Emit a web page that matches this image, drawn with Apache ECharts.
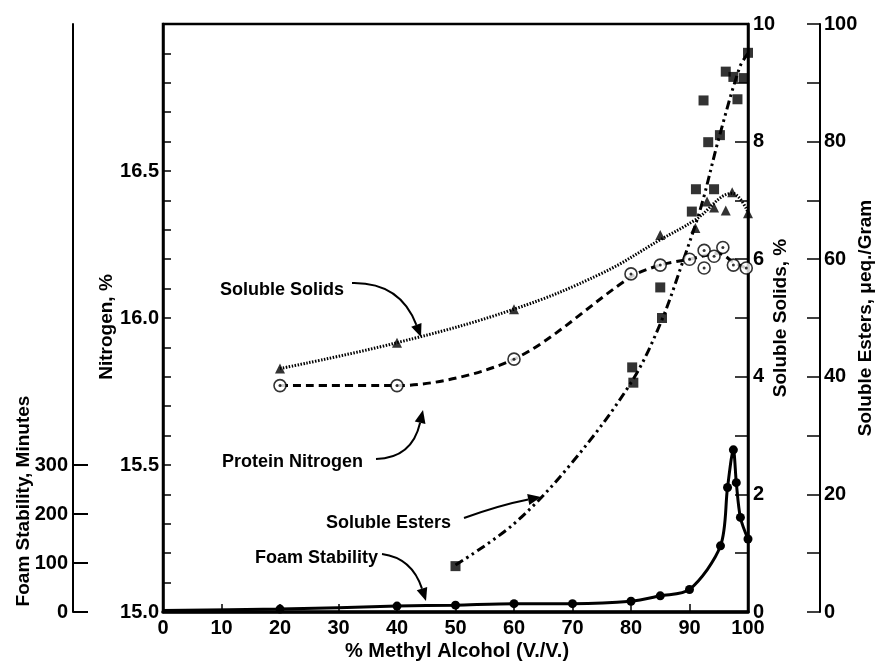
<!DOCTYPE html>
<html><head><meta charset="utf-8">
<script src="https://cdn.jsdelivr.net/npm/echarts@6/dist/echarts.min.js"></script>
<style>html,body{margin:0;padding:0;background:#fff}#c{width:877px;height:664px}</style>
</head><body><div id="c"></div>
<script>
// ---- data ----
const solidsX = [20, 40, 60, 85, 91, 93, 94.2, 96.2, 97.3, 100];
const solidsY = [4.14, 4.58, 5.15, 6.41, 6.53, 6.98, 6.88, 6.83, 7.14, 6.78];
const solidsCurveX = [20, 40, 60, 75, 85, 91, 97.3, 100];
const solidsCurveY = [4.14, 4.58, 5.15, 5.76, 6.33, 6.67, 7.12, 6.8];

const proteinX = [20, 40, 60, 80, 85, 90, 92.5, 92.5, 94.2, 95.7, 97.5, 99.7];
const proteinY = [15.77, 15.77, 15.86, 16.15, 16.18, 16.20, 16.23, 16.17, 16.21, 16.24, 16.18, 16.17];
const proteinCurveX = [20, 40, 60, 80, 85, 90, 95, 97.5, 99.7];
const proteinCurveY = [15.77, 15.77, 15.86, 16.14, 16.18, 16.2, 16.22, 16.19, 16.17];

const estersX = [50, 80.2, 80.4, 85, 85.3, 90.4, 91.1, 92.4, 93.2, 94.2, 95.2, 96.2, 97.5, 98.2, 99.3, 100];
const estersY = [7.8, 41.6, 39.0, 55.2, 50.0, 68.1, 71.9, 87.0, 79.9, 71.9, 81.1, 91.9, 91.0, 87.2, 90.8, 95.1];
const estersCurveX = [50, 60, 70, 80, 85, 89, 92, 95, 98.6, 100];
const estersCurveY = [8, 15, 25.5, 39, 49, 60, 69, 80.5, 92.7, 95];

const foamX = [0, 20, 40, 50, 60, 70, 80, 85, 90, 95.3, 96.5, 97.5, 98, 98.7, 100];
const foamY = [3, 6, 12, 14, 17, 17, 22, 33, 46, 135, 254, 331, 264, 193, 149];

const xTickStep = 10;
const nitrogenRange = [15.0, 17.0];
const foamTickValues = [0, 100, 200, 300];

// ---- chart ----
const FONT = '"Liberation Sans",Arial,sans-serif';
const pts = (xs, ys) => xs.map((x, i) => [x, ys[i]]);
const lbl = (extra) => Object.assign({color: '#000', fontFamily: FONT, fontWeight: 'bold', fontSize: 20}, extra || {});

const G = {left: 163, right: 129, top: 24, bottom: 52};

function arrow(x1, y1, cx, cy, x2, y2) {
  const a = Math.atan2(y2 - cy, x2 - cx), L = 13, W = 5.5;
  const bx = x2 - L * Math.cos(a), by = y2 - L * Math.sin(a);
  return [
    {type: 'bezierCurve', shape: {x1, y1, cpx1: cx, cpy1: cy, x2: bx, y2: by},
     style: {stroke: '#000', lineWidth: 2, fill: null}, z: 100},
    {type: 'polygon', shape: {points: [[x2, y2], [bx + W * Math.sin(a), by - W * Math.cos(a)], [bx - W * Math.sin(a), by + W * Math.cos(a)]]},
     style: {fill: '#000'}, z: 100}
  ];
}
function txt(x, y, t, size, rot, align) {
  return {type: 'text', x, y, rotation: rot || 0, z: 100,
    style: {text: t, fill: '#000', font: 'bold ' + size + 'px ' + FONT, textAlign: align || 'left', textVerticalAlign: 'middle'}};
}

const chart = echarts.init(document.getElementById('c'), null, {renderer: 'canvas'});
chart.setOption({
  backgroundColor: '#fff',
  animation: false,
  grid: [
    Object.assign({show: true, borderColor: '#000', borderWidth: 2.5}, G),
    {left: 73, width: 10, top: 465, bottom: 52}
  ],
  xAxis: [
    {gridIndex: 0, type: 'value', min: 0, max: 100, interval: xTickStep,
     axisLine: {lineStyle: {color: '#000', width: 3.5}},
     axisTick: {inside: true, length: 8, lineStyle: {color: '#000', width: 1.5}},
     axisLabel: lbl({margin: 6}), splitLine: {show: false}},
    {gridIndex: 1, type: 'value', show: false, min: 0, max: 1}
  ],
  yAxis: [
    // 0 Nitrogen
    {gridIndex: 0, type: 'value', position: 'left', min: nitrogenRange[0], max: nitrogenRange[1], interval: 0.1,
     axisLine: {show: true, lineStyle: {color: '#000', width: 2.5}},
     axisTick: {show: true, inside: true, length: 8, lineStyle: {color: '#000', width: 1.5}},
     axisLabel: lbl({margin: 4, formatter: v => (Math.round(v * 10) % 5 === 0 && v < 16.95) ? v.toFixed(1) : ''}),
     splitLine: {show: false}},
    // 1 Foam (scale, axis line only)
    {gridIndex: 0, type: 'value', position: 'left', offset: 90, min: 0, max: 1200, interval: 100,
     axisLine: {show: true, lineStyle: {color: '#000', width: 2}},
     axisTick: {show: false}, axisLabel: {show: false}, splitLine: {show: false}},
    // 2 Soluble solids
    {gridIndex: 0, type: 'value', position: 'right', min: 0, max: 10, interval: 1,
     axisLine: {show: true, lineStyle: {color: '#000', width: 2.5}},
     axisTick: {inside: true, length: 13, lineStyle: {color: '#000', width: 1.5}},
     axisLabel: lbl({margin: 5, formatter: v => (v % 2 === 0 ? String(v) : '')}),
     splitLine: {show: false}},
    // 3 Soluble esters
    {gridIndex: 0, type: 'value', position: 'right', offset: 72, min: 0, max: 100, interval: 10,
     axisLine: {show: true, lineStyle: {color: '#000', width: 2}},
     axisTick: {inside: true, length: 13, lineStyle: {color: '#000', width: 1.5}},
     axisLabel: lbl({margin: 4, formatter: v => (v % 20 === 0 ? String(v) : '')}),
     splitLine: {show: false}},
    // 4 Foam tick labels (0-300)
    {gridIndex: 1, type: 'value', position: 'left', min: foamTickValues[0], max: foamTickValues[foamTickValues.length - 1], interval: 100,
     axisLine: {show: false},
     axisTick: {inside: true, length: 15, lineStyle: {color: '#000', width: 2}},
     axisLabel: lbl({margin: 5}), splitLine: {show: false}}
  ],
  series: [
    {type: 'line', xAxisIndex: 0, yAxisIndex: 2, data: pts(solidsCurveX, solidsCurveY), smooth: 0.4, showSymbol: false,
     lineStyle: {color: '#000', width: 3, type: [1.5, 1.5]}, z: 2},
    {type: 'scatter', xAxisIndex: 0, yAxisIndex: 2, data: pts(solidsX, solidsY), symbol: 'triangle', symbolSize: 10,
     itemStyle: {color: '#000'}, z: 5},
    {type: 'line', xAxisIndex: 0, yAxisIndex: 0, data: pts(proteinCurveX, proteinCurveY), smooth: 0.3, showSymbol: false,
     lineStyle: {color: '#000', width: 3, type: [8, 5]}, z: 2},
    {type: 'scatter', xAxisIndex: 0, yAxisIndex: 0, data: pts(proteinX, proteinY), symbol: 'circle', symbolSize: 12,
     itemStyle: {color: '#fff', borderColor: '#000', borderWidth: 1.6}, z: 5},
    {type: 'scatter', xAxisIndex: 0, yAxisIndex: 0, data: pts(proteinX, proteinY), symbol: 'circle', symbolSize: 3,
     itemStyle: {color: '#000'}, z: 6},
    {type: 'line', xAxisIndex: 0, yAxisIndex: 3, data: pts(estersCurveX, estersCurveY), smooth: 0.35, showSymbol: false,
     lineStyle: {color: '#000', width: 3, type: [9, 4, 2.5, 4, 2.5, 4]}, z: 2},
    {type: 'scatter', xAxisIndex: 0, yAxisIndex: 3, data: pts(estersX, estersY), symbol: 'rect', symbolSize: 10,
     itemStyle: {color: '#000'}, z: 5},
    {type: 'line', xAxisIndex: 0, yAxisIndex: 1, data: pts(foamX, foamY), smooth: 0.3,
     symbol: 'circle', symbolSize: (v) => (v[0] === 0 ? 0 : 9), showAllSymbol: true,
     itemStyle: {color: '#000'}, lineStyle: {color: '#000', width: 3}, z: 4}
  ],
  graphic: [].concat(
    [txt(220, 290, 'Soluble Solids', 18)],
    arrow(352, 283, 400, 282, 421, 337),
    [txt(222, 462, 'Protein Nitrogen', 18)],
    arrow(376, 459, 412, 458, 423, 410),
    [txt(326, 523, 'Soluble Esters', 18)],
    arrow(464, 518, 500, 505, 541, 497),
    [txt(255, 558, 'Foam Stability', 18)],
    arrow(382, 554, 412, 558, 426, 601),
    [txt(24, 501, 'Foam Stability, Minutes', 19, Math.PI / 2, 'center'),
     txt(107, 327, 'Nitrogen, %', 19, Math.PI / 2, 'center'),
     txt(781, 318, 'Soluble Solids, %', 19, Math.PI / 2, 'center'),
     txt(866, 318, 'Soluble Esters, \u03bceq./Gram', 19, Math.PI / 2, 'center'),
     txt(457, 651, '% Methyl Alcohol (V./V.)', 20, 0, 'center')]
  )
});
</script></body></html>
